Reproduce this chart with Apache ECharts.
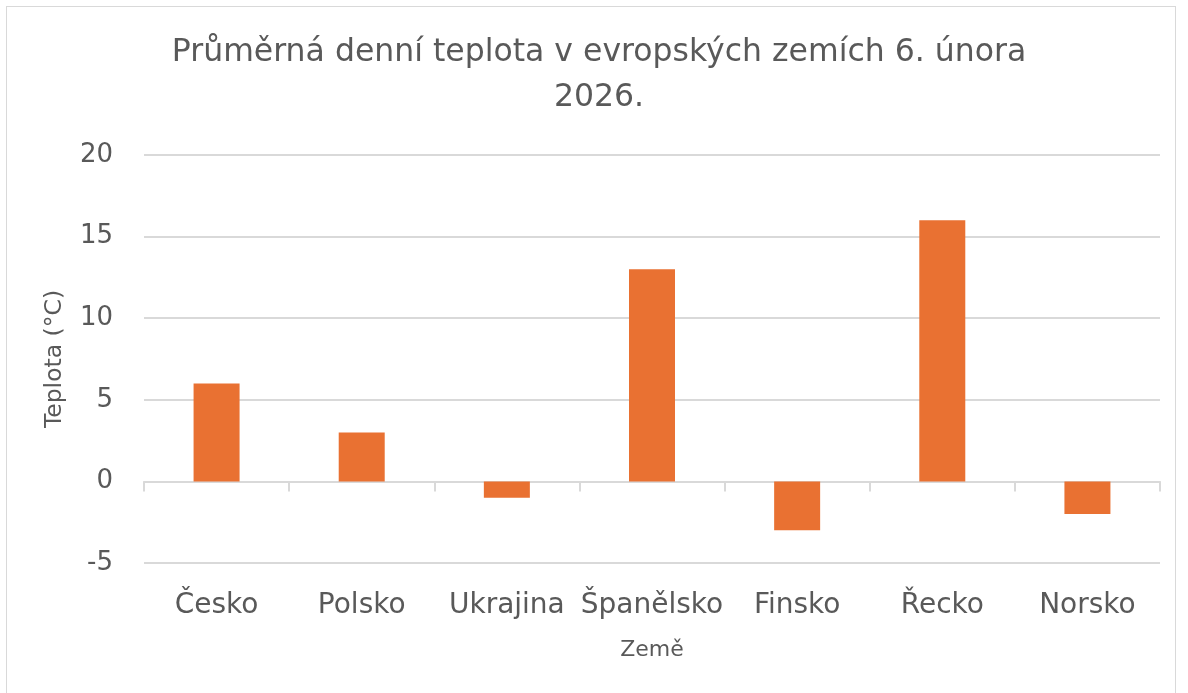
<!DOCTYPE html>
<html>
<head>
<meta charset="utf-8">
<script src="https://cdn.jsdelivr.net/npm/echarts@6/dist/echarts.min.js"></script>
<style>
  html, body { margin: 0; padding: 0; background: #fff; }
  #frame {
    position: absolute; left: 6px; top: 6px; width: 1170px; height: 700px;
    border: 1px solid #d9d9d9; box-sizing: border-box;
  }
  #chart { position: absolute; left: 0; top: 0; width: 1188px; height: 693px; }
</style>
</head>
<body>
<div id="frame"></div>
<div id="chart"></div>
<script>
  // data
  const countries = ['Česko', 'Polsko', 'Ukrajina', 'Španělsko', 'Finsko', 'Řecko', 'Norsko'];
  const temps = [6, 3, -1, 13, -3, 16, -2];
  const titleText = 'Průměrná denní teplota v evropských zemích 6. února\n2026.';
  const yName = 'Teplota (°C)';
  const xName = 'Země';

  const font = 'DejaVu Sans, sans-serif';
  const grey = '#595959';

  const chart = echarts.init(document.getElementById('chart'));
  const option = {
    animation: false,
    textStyle: { fontFamily: font },
    title: {
      text: titleText,
      left: 594,
      textAlign: 'center',
      top: 25,
      textStyle: { fontSize: 31.5, fontWeight: 'normal', color: grey, lineHeight: 45, fontFamily: font }
    },
    grid: { left: 144, right: 28, top: 155, bottom: 130 },
    xAxis: [{
      // axis line sits on zero, with ticks between categories
      type: 'category',
      data: countries,
      axisLine: { onZero: true, lineStyle: { color: '#d9d9d9', width: 2 } },
      axisTick: { show: true, length: 10, lineStyle: { color: '#d9d9d9', width: 2 } },
      axisLabel: { show: false }
    }, {
      // labels stay at the bottom of the plot
      type: 'category',
      data: countries,
      position: 'bottom',
      axisLine: { show: false, onZero: false },
      axisTick: { show: false },
      axisLabel: { color: grey, fontSize: 28, margin: 29, interval: 0, fontFamily: font },
      name: xName,
      nameLocation: 'middle',
      nameGap: 76,
      nameTextStyle: { color: grey, fontSize: 22, fontFamily: font }
    }],
    yAxis: {
      type: 'value',
      min: -5,
      max: 20,
      interval: 5,
      axisLine: { show: false },
      axisTick: { show: false },
      splitLine: { lineStyle: { color: '#d9d9d9', width: 2 } },
      axisLabel: { color: grey, fontSize: 26, margin: 31, fontFamily: font },
      name: yName,
      nameLocation: 'middle',
      nameGap: 77,
      nameTextStyle: { color: grey, fontSize: 23.5, fontFamily: font }
    },
    series: [{
      type: 'bar',
      xAxisIndex: 0,
      data: temps,
      barWidth: 46,
      itemStyle: { color: '#E97132' }
    }]
  };
  chart.setOption(option);
</script>
</body>
</html>
